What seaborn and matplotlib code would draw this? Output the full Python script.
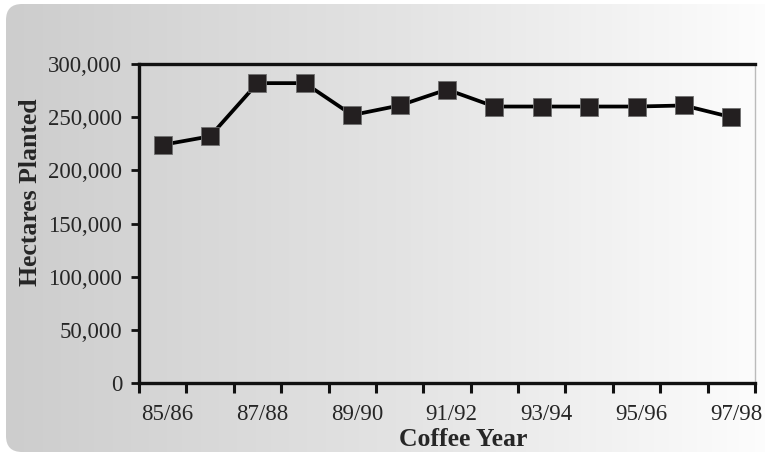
import numpy as np
import pandas as pd
import matplotlib
matplotlib.use("Agg")
import matplotlib.pyplot as plt
from matplotlib.patches import FancyBboxPatch
import seaborn as sns

# ---- data ----
years = ["85/86", "86/87", "87/88", "88/89", "89/90", "90/91", "91/92",
         "92/93", "93/94", "94/95", "95/96", "96/97", "97/98"]
hectares = [224000, 232000, 282000, 282000, 252000, 261000, 276000,
            260000, 260000, 260000, 260000, 261000, 250000]
tick_labels = ["85/86", "87/88", "89/90", "91/92", "93/94", "95/96", "97/98"]
y_ticks = [0, 50000, 100000, 150000, 200000, 250000, 300000]

df = pd.DataFrame({"idx": np.arange(len(years)), "year": years, "ha": hectares})

sns.set_theme(style="white")
plt.rcParams['font.family'] = ['Liberation Serif', 'DejaVu Serif']

W, H = 765, 457
fig = plt.figure(figsize=(W / 100, H / 100), dpi=100)

# background gradient with rounded left corners
bg = fig.add_axes([0, 0, 1, 1])
bg.set_xlim(0, W)
bg.set_ylim(0, H)
bg.axis("off")
grad = np.linspace(0, 1, 256).reshape(1, -1)
cmap = matplotlib.colors.LinearSegmentedColormap.from_list("g", ["#cdcdcd", "#e3e3e3", "#fefefe"])
im = bg.imshow(grad, extent=[6, W + 20, 5, H - 4], aspect="auto", cmap=cmap, zorder=0)
clip = FancyBboxPatch((6, 5), W + 10, H - 9, boxstyle="round,pad=0,rounding_size=16",
                      transform=bg.transData, facecolor="none", edgecolor="none")
bg.add_patch(clip)
im.set_clip_path(clip)

# main axes
x0, x1 = 139, 755
y_top, y_bot = 64, 383
ax = fig.add_axes([x0 / W, 1 - y_bot / H, (x1 - x0) / W, (y_bot - y_top) / H])
ax.patch.set_alpha(0)

sns.lineplot(data=df, x="idx", y="ha", ax=ax, color="black", linewidth=2.7,
             marker="s", markersize=12.5, markerfacecolor="#231f20",
             markeredgecolor="#707070", markeredgewidth=0.6, zorder=3)

ax.set_xlim(-0.5, len(years) - 0.5)
ax.set_ylim(0, 300000)

# major ticks at category boundaries, labels on every second category
ax.set_xticks(np.arange(-0.5, len(years), 1.0))
ax.set_xticklabels([])
ax.set_xticks(np.arange(0, len(years), 2) + 0.1, minor=True)
ax.set_xticklabels(tick_labels, minor=True, fontsize=16.5)
ax.tick_params(axis="x", which="major", direction="out", length=7, width=2.2, color="#111111", bottom=True)
ax.tick_params(axis="x", which="minor", length=0, pad=15, bottom=True)

ax.set_yticks(y_ticks)
ax.set_yticklabels([f"{v:,}" for v in y_ticks], fontsize=16.5)
ax.tick_params(axis="y", direction="out", length=6, width=2, color="#111111", left=True, pad=6)

for side in ["left", "bottom", "top"]:
    ax.spines[side].set_visible(True)
    ax.spines[side].set_color("#111111")
    ax.spines[side].set_linewidth(2.4)
ax.spines["right"].set_visible(True)
ax.spines["right"].set_color("#bbbbbb")
ax.spines["right"].set_linewidth(1)

ax.set_xlabel("Coffee Year", fontsize=18.5, fontweight="bold")
ax.set_ylabel("Hectares Planted", fontsize=18.5, fontweight="bold")
ax.xaxis.set_label_coords((463 - x0) / (x1 - x0), -(440 - y_bot) / (y_bot - y_top))
ax.yaxis.set_label_coords(-(x0 - 31) / (x1 - x0), (y_bot - 192) / (y_bot - y_top))
ax.xaxis.label.set_va("center")
ax.yaxis.label.set_va("center")
ax.grid(False)

fig.savefig("out.png", dpi=100)
